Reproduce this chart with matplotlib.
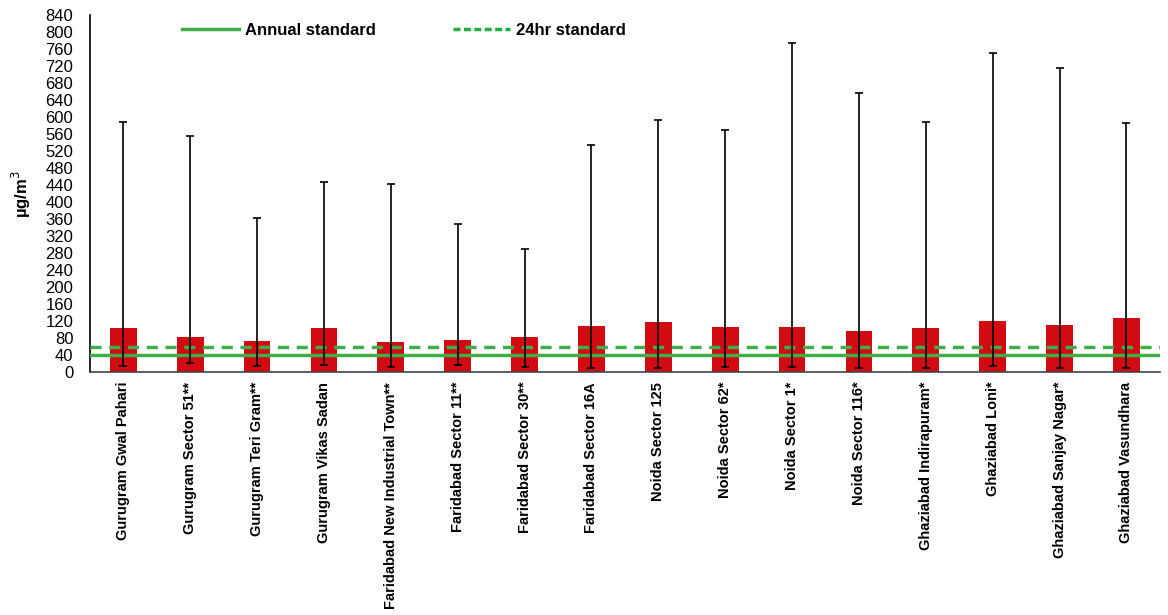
import matplotlib
matplotlib.use("Agg")
import matplotlib.pyplot as plt
from matplotlib.lines import Line2D
import numpy as np

plt.rcParams["font.family"] = ["Liberation Sans", "DejaVu Sans"]

stations = [
    "Gurugram Gwal Pahari", "Gurugram Sector 51**", "Gurugram Teri Gram**",
    "Gurugram Vikas Sadan", "Faridabad New Industrial Town**",
    "Faridabad Sector 11**", "Faridabad Sector 30**", "Faridabad Sector 16A",
    "Noida Sector 125", "Noida Sector 62*", "Noida Sector 1*",
    "Noida Sector 116*", "Ghaziabad Indirapuram*", "Ghaziabad Loni*",
    "Ghaziabad Sanjay Nagar*", "Ghaziabad Vasundhara",
]
mean_vals = [104, 83, 74, 104, 71, 76, 83, 109, 118, 106, 106, 97, 104, 120, 111, 127]
min_vals = [14, 22, 14, 17, 12, 17, 13, 9, 9, 13, 12, 9, 9, 14, 9, 9]
max_vals = [590, 555, 362, 447, 443, 348, 291, 534, 594, 571, 775, 658, 589, 751, 716, 587]
annual_std = 40
daily_std = 60
yticks = list(range(0, 841, 40))

fig = plt.figure(figsize=(11.68, 6.15), dpi=100)
ax = fig.add_axes([0.077, 0.395, 0.916, 0.58])

x = np.arange(len(stations))
ax.bar(x, mean_vals, width=0.4, color="#d20a11", zorder=2)
ax.axhline(annual_std, color="#3fae49", linewidth=2.5, zorder=3)
ax.axhline(daily_std, color="#3fae49", linewidth=2.5, linestyle=(0, (3.2, 2.2)), zorder=3)

means = np.array(mean_vals)
yerr = [means - np.array(min_vals), np.array(max_vals) - means]
ax.errorbar(x, means, yerr=yerr, fmt="none", ecolor="black", elinewidth=1.2,
            capsize=3, capthick=1.2, zorder=4)

ax.set_xlim(-0.5, len(stations) - 0.5)
ax.set_ylim(0, 840)
ax.set_yticks(yticks)
ax.tick_params(axis="y", length=0, labelsize=12, pad=12)
ax.set_xticks(x)
ax.set_xticklabels(stations, rotation=90, fontsize=10.5, fontweight="bold")
ax.tick_params(axis="x", length=0, pad=7)
for s in ("top", "right"):
    ax.spines[s].set_visible(False)
ax.spines["left"].set_linewidth(1.2)
ax.spines["bottom"].set_linewidth(1.2)
ax.spines["bottom"].set_color("#444444")

ax.set_ylabel("µg/m$^3$", fontsize=12, fontweight="bold")
ax.yaxis.set_label_coords(-0.053, 0.5)

handles = [
    Line2D([0], [0], color="#3fae49", linewidth=2.5),
    Line2D([0], [0], color="#1fae3f", linewidth=2.5, linestyle=(0, (2, 1))),
]
leg = ax.legend(handles, ["Annual standard", "24hr standard"], loc="upper left",
                bbox_to_anchor=(0.072, 1.021), ncol=2, frameon=False,
                columnspacing=4.6, handlelength=3.4, handletextpad=0.4,
                prop={"weight": "bold", "size": 12})

fig.savefig("out.png", dpi=100)
